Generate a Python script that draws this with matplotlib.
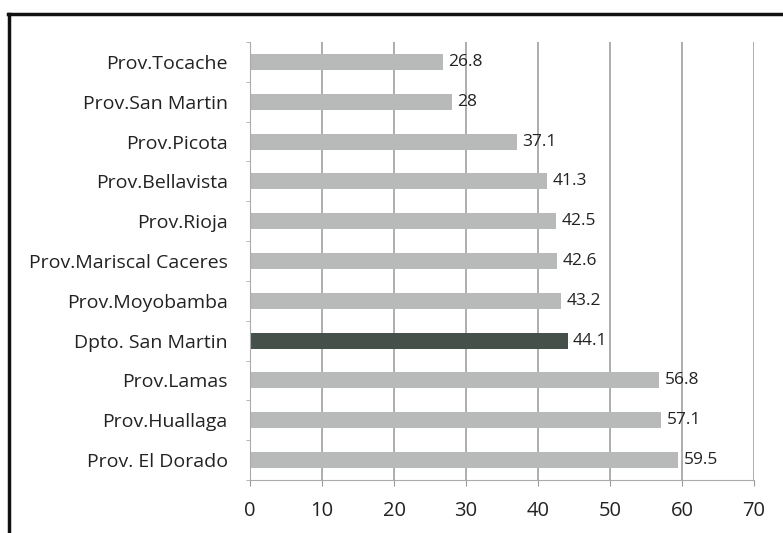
import matplotlib.pyplot as plt
from matplotlib.lines import Line2D
import numpy as np

plt.rcParams['font.family'] = ['Open Sans', 'DejaVu Sans']

provincias = ["Prov.Tocache", "Prov.San Martin", "Prov.Picota", "Prov.Bellavista",
              "Prov.Rioja", "Prov.Mariscal Caceres", "Prov.Moyobamba",
              "Dpto. San Martin", "Prov.Lamas", "Prov.Huallaga", "Prov. El Dorado"]
valores = [26.8, 28, 37.1, 41.3, 42.5, 42.6, 43.2, 44.1, 56.8, 57.1, 59.5]
x_ticks = [0, 10, 20, 30, 40, 50, 60, 70]

W, H = 783, 533
fig = plt.figure(figsize=(W / 100, H / 100), dpi=100)
ax = fig.add_axes([250 / W, 1 - 480 / H, (754 - 250) / W, (480 - 42) / H])

y = np.arange(len(provincias))
colores = ['#45504b' if p.startswith('Dpto') else '#b8bab9' for p in provincias]
ax.barh(y, valores, height=0.4, color=colores, zorder=2)

for yi, v in zip(y, valores):
    ax.annotate(f"{v:g}", (v, yi), xytext=(4, 0), textcoords='offset points',
                va='center', ha='left', fontsize=12.5, color='#222222')

ax.set_xlim(0, 70)
ax.set_ylim(len(provincias) - 0.5, -0.5)
ax.set_xticks(x_ticks)
ax.set_yticks(y)
ax.set_yticklabels(provincias, fontsize=14, color='#222222')
ax.tick_params(axis='x', labelsize=14.5, labelcolor='#222222', colors='#999999',
               length=4, pad=11)
ax.tick_params(axis='y', length=0, pad=16)
ax.set_yticks(np.arange(-0.5, len(provincias) + 0.5, 1), minor=True)
ax.tick_params(axis='y', which='minor', length=3, colors='#aaaaaa')

ax.grid(axis='x', color='#a0a0a0', linewidth=1.2, zorder=0)
for s in ['top', 'right']:
    ax.spines[s].set_visible(False)
ax.spines['left'].set_color('#aaaaaa')
ax.spines['bottom'].set_color('#aaaaaa')

# marco del recorte
fig.add_artist(Line2D([8 / W, 1], [1 - 14 / H, 1 - 14 / H], color='#111111',
                      linewidth=2.5, transform=fig.transFigure))
fig.add_artist(Line2D([9 / W, 9 / W], [0, 1 - 14 / H], color='#111111',
                      linewidth=2.5, transform=fig.transFigure))

fig.savefig("out.png", dpi=100)
